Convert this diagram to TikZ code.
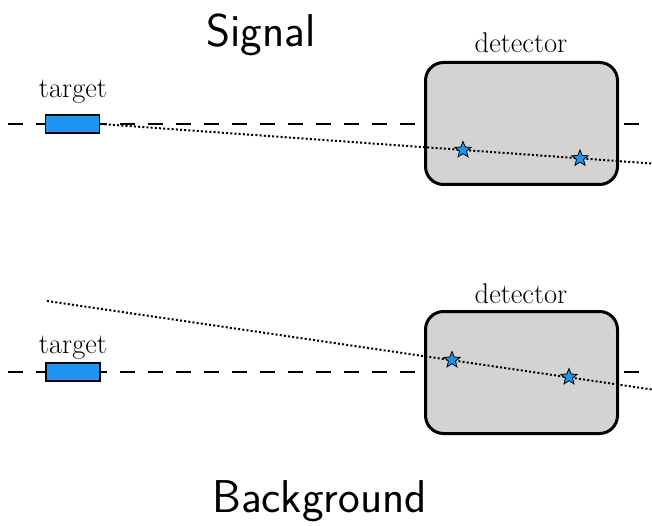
\documentclass[tikz,border=0pt]{standalone}
\usetikzlibrary{shapes.geometric}
\definecolor{tgtblue}{RGB}{30,150,240}
\definecolor{detgray}{RGB}{211,211,211}
\begin{document}
\begin{tikzpicture}[x=1pt,y=-1pt,
  beamline/.style={dashed,line width=2pt,dash pattern=on 15pt off 13pt},
  track/.style={line width=2pt,dash pattern=on 2pt off 2.2pt},
  tgtbox/.style={draw,line width=1.8pt,fill=tgtblue,minimum width=54pt,minimum height=18pt,inner sep=0pt},
  detbox/.style={draw,line width=3pt,fill=detgray,rounded corners=18pt,minimum width=192pt,minimum height=122pt,inner sep=0pt},
  hitstar/.style={star,star points=5,star point ratio=2.3,draw,line width=0.8pt,fill=tgtblue,minimum size=17pt,inner sep=0pt},
  lbl/.style={font=\fontsize{28.5}{32}\selectfont,anchor=base,inner sep=0pt},
  ttl/.style={font=\fontsize{46}{52}\sffamily\selectfont,anchor=base,inner sep=0pt}]
\useasboundingbox (0,0) rectangle (652,526);
% titles
\node[ttl] (sig) at (261,47) {Signal};
\node[ttl] (bkg) at (319.5,512) {Background};
% ---------- Signal ----------
\coordinate (a1) at (8,124);
\coordinate (a2) at (652,124);
\draw[beamline] (a1) -- (a2);
\node[tgtbox] (tgt1) at (72.5,124) {};
\node[detbox] (det1) at (521.5,123.5) {};
\node[lbl] (tl1) at (73,98) {target};
\node[lbl] (dl1) at (521,53) {detector};
\coordinate (e1) at (652,163.5);
\draw[track] (tgt1.east) -- (e1);
\node[hitstar] (h11) at (463,150) {};
\node[hitstar] (h12) at (580,158.4) {};
% ---------- Background ----------
\coordinate (b1) at (8,372);
\coordinate (b2) at (652,372);
\draw[beamline] (b1) -- (b2);
\node[tgtbox] (tgt2) at (73,372) {};
\node[detbox] (det2) at (521.5,372.5) {};
\node[lbl] (tl2) at (73,353) {target};
\node[lbl] (dl2) at (521,303) {detector};
\coordinate (s2) at (47,301);
\coordinate (e2) at (652,389.5);
\draw[track] (s2) -- (e2);
\node[hitstar] (h21) at (452,360) {};
\node[hitstar] (h22) at (569,377) {};
\end{tikzpicture}
\end{document}
